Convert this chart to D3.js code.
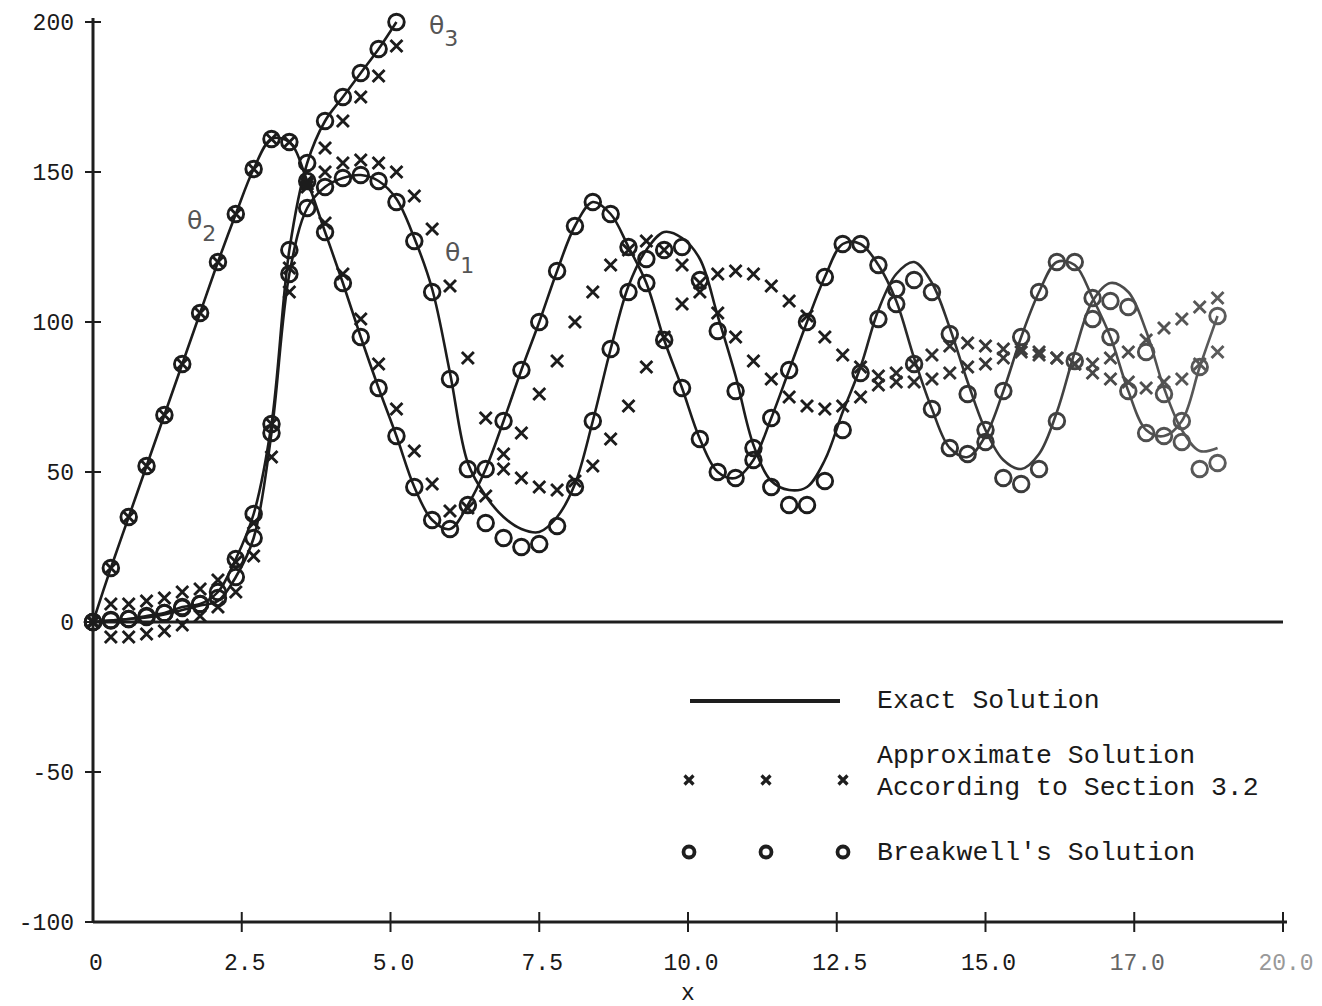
<!DOCTYPE html>
<html>
<head>
<meta charset="utf-8">
<script src="https://cdn.jsdelivr.net/npm/d3@7"></script>
<style>
  body { margin: 0; background: #fff; }
  svg { display: block; }
  .tick-label { font-family: 'Liberation Mono', monospace; font-size: 23px; fill: #1a1a1a; }
  .legend-text { font-family: 'Liberation Mono', monospace; font-size: 26.5px; fill: #1a1a1a; }
  .theta { font-family: 'DejaVu Sans', sans-serif; font-size: 25px; fill: #555; }
</style>
</head>
<body>
<script>
// sample points along x (step of the original computation)
var xs = [0, 0.3, 0.6, 0.9, 1.2, 1.5, 1.8, 2.1, 2.4, 2.7, 3.0, 3.3, 3.6, 3.9, 4.2, 4.5,
  4.8, 5.1, 5.4, 5.7, 6.0, 6.3, 6.6, 6.9, 7.2, 7.5, 7.8, 8.1, 8.4, 8.7, 9.0, 9.3,
  9.6, 9.9, 10.2, 10.5, 10.8, 11.1, 11.4, 11.7, 12.0, 12.3, 12.6, 12.9, 13.2, 13.5,
  13.8, 14.1, 14.4, 14.7, 15.0, 15.3, 15.6, 15.9, 16.2, 16.5, 16.8, 17.1, 17.4,
  17.7, 18.0, 18.3, 18.6, 18.9];

// exact solution
var theta1Exact = [0, 0.5, 1, 1.5, 2.5, 4, 5.5, 7, 15, 28,
  63, 116, 138, 145, 148, 149, 147, 141, 128, 111,
  83, 53, 42, 35, 31, 30, 35, 46, 67, 91,
  112, 124, 130, 128, 121, 102, 82, 59, 47, 44,
  45, 54, 70, 85, 104, 116, 120, 113, 98, 80,
  64, 54, 51, 56, 70, 90, 107, 113, 110, 97,
  78, 64, 57, 58];
var theta2Exact = [0, 18, 35, 52, 69, 86, 103, 120, 136, 151,
  161, 160, 147, 130, 113, 95, 78, 62, 45, 34,
  31, 39, 51, 67, 84, 100, 117, 132, 140, 136,
  125, 113, 94, 78, 61, 50, 48, 54, 68, 84,
  100, 115, 126, 126, 119, 107, 88, 71, 58, 55,
  62, 77, 95, 110, 120, 119, 108, 95, 77, 64,
  62, 67, 85, 102];
var theta3Exact = [0, 0.5, 1, 2, 3, 5, 6, 10, 21, 36,
  66, 124, 153, 167, 175, 183, 191, 200];

// approximate solution (section 3.2)
var approx1 = [0, 6, 6, 7, 8, 10, 11, 14, 20, 33,
  66, 118, 146, 150, 153, 154, 153, 150, 142, 131,
  112, 88, 68, 56, 48, 45, 44, 47, 52, 61,
  72, 85, 95, 106, 113, 116, 117, 116, 112, 107,
  102, 95, 89, 85, 82, 80, 80, 81, 83, 85,
  86, 88, 90, 90, 88, 86, 83, 81, 80, 78,
  80, 81, 86, 90];
var approx2 = [0, 18, 35, 52, 69, 86, 103, 120, 136, 151,
  161, 160, 147, 133, 116, 101, 86, 71, 57, 46,
  37, 38, 42, 51, 63, 76, 87, 100, 110, 119,
  124, 127, 124, 119, 110, 103, 95, 87, 81, 75,
  72, 71, 72, 75, 79, 83, 86, 89, 92, 93,
  92, 91, 91, 89, 88, 86, 86, 88, 90, 94,
  98, 101, 105, 108];
var approx3 = [0, -5, -5, -4, -3, -1, 2, 5, 10, 22,
  55, 110, 145, 158, 167, 175, 182, 192];

// Breakwell's solution
var breakwell1 = [0, 0.7, 1, 1.7, 3, 4.7, 6, 8, 15, 28,
  63, 116, 138, 145, 148, 149, 147, 140, 127, 110,
  81, 51, 33, 28, 25, 26, 32, 45, 67, 91,
  110, 121, 124, 125, 114, 97, 77, 58, 45, 39,
  39, 47, 64, 83, 101, 111, 114, 110, 96, 76,
  60, 48, 46, 51, 67, 87, 101, 107, 105, 90,
  76, 60, 51, 53];
var breakwell2 = [0, 18, 35, 52, 69, 86, 103, 120, 136, 151,
  161, 160, 147, 130, 113, 95, 78, 62, 45, 34,
  31, 39, 51, 67, 84, 100, 117, 132, 140, 136,
  125, 113, 94, 78, 61, 50, 48, 54, 68, 84,
  100, 115, 126, 126, 119, 106, 86, 71, 58, 56,
  64, 77, 95, 110, 120, 120, 108, 95, 77, 63,
  62, 67, 85, 102];
var breakwell3 = [0, 0.5, 1, 2, 3, 5, 6, 10, 21, 36,
  66, 124, 153, 167, 175, 183, 191, 200];

var yTicks = [-100, -50, 0, 50, 100, 150, 200];
var xTicks = [0, 2.5, 5, 7.5, 10, 12.5, 15, 17.5, 20];
var xTickLabels = ['0', '2.5', '5.0', '7.5', '10.0', '12.5', '15.0', '17.0', '20.0'];

var W = 1322, H = 1006;
var x = d3.scaleLinear().domain([0, 20]).range([93, 1283]);
var y = d3.scaleLinear().domain([-100, 200]).range([922, 22]);

var svg = d3.select('body').append('svg').attr('width', W).attr('height', H);
svg.append('rect').attr('width', W).attr('height', H).attr('fill', '#fff');

// scanned plot fades out to the right
var grad = svg.append('defs').append('linearGradient')
  .attr('id', 'fade').attr('gradientUnits', 'userSpaceOnUse')
  .attr('x1', 820).attr('x2', 1290).attr('y1', 0).attr('y2', 0);
grad.append('stop').attr('offset', 0).attr('stop-color', '#1c1c1c');
grad.append('stop').attr('offset', 1).attr('stop-color', '#666');

var ink = '#1e1e1e';

/* axes */
var ax = svg.append('g').attr('stroke', ink).attr('stroke-width', 3).attr('fill', 'none');
ax.append('line').attr('x1', x(0)).attr('x2', x(0)).attr('y1', y(200) - 4).attr('y2', y(-100));
ax.append('line').attr('x1', x(0)).attr('x2', x(20) + 4).attr('y1', y(-100)).attr('y2', y(-100));
ax.append('line').attr('x1', x(0)).attr('x2', x(20)).attr('y1', y(0)).attr('y2', y(0));

ax.selectAll('.ytick').data(yTicks).enter().append('line')
  .attr('x1', x(0) - 8).attr('x2', x(0) + 8)
  .attr('y1', function(d) { return y(d); }).attr('y2', function(d) { return y(d); })
  .attr('stroke-width', 2);
ax.selectAll('.xtick').data(xTicks.slice(1)).enter().append('line')
  .attr('x1', function(d) { return x(d); }).attr('x2', function(d) { return x(d); })
  .attr('y1', y(-100) - 10).attr('y2', y(-100) + 10)
  .attr('stroke-width', 2);

svg.selectAll('.ylab').data(yTicks).enter().append('text')
  .attr('class', 'tick-label')
  .attr('x', 74).attr('y', function(d) { return y(d) + 8; })
  .attr('text-anchor', 'end')
  .text(function(d) { return d; });

svg.selectAll('.xlab').data(xTicks).enter().append('text')
  .attr('class', 'tick-label')
  .attr('x', function(d) { return x(d) + 3; }).attr('y', 970)
  .attr('text-anchor', 'middle')
  .style('fill', function(d, i) { return i == 8 ? '#999' : (i == 7 ? '#666' : '#1a1a1a'); })
  .text(function(d, i) { return xTickLabels[i]; });

svg.append('text').attr('class', 'tick-label')
  .attr('x', 688).attr('y', 1000).attr('text-anchor', 'middle').text('x');

/* exact curves */
function pts(arr) {
  return arr.map(function(v, i) { return [xs[i], v]; });
}
var line = d3.line()
  .x(function(d) { return x(d[0]); })
  .y(function(d) { return y(d[1]); })
  .curve(d3.curveCatmullRom.alpha(0.5));

var plot = svg.append('g');
[theta1Exact, theta2Exact, theta3Exact].forEach(function(s) {
  plot.append('path').attr('d', line(pts(s)))
    .attr('fill', 'none').attr('stroke', 'url(#fade)').attr('stroke-width', 2.6);
});

/* markers */
function crosses(arr) {
  plot.append('g').selectAll('path').data(pts(arr)).enter().append('path')
    .attr('d', function(d) {
      var cx = x(d[0]), cy = y(d[1]), r = 6;
      return 'M' + (cx - r) + ',' + (cy - r) + 'L' + (cx + r) + ',' + (cy + r) +
        'M' + (cx - r) + ',' + (cy + r) + 'L' + (cx + r) + ',' + (cy - r);
    })
    .attr('stroke', 'url(#fade)').attr('stroke-width', 2.9).attr('fill', 'none');
}
function rings(arr) {
  plot.append('g').selectAll('circle').data(pts(arr)).enter().append('circle')
    .attr('cx', function(d) { return x(d[0]); })
    .attr('cy', function(d) { return y(d[1]); })
    .attr('r', 7.8)
    .attr('stroke', 'url(#fade)').attr('stroke-width', 2.9).attr('fill', 'none');
}
[breakwell1, breakwell2, breakwell3].forEach(rings);
[approx1, approx2, approx3].forEach(crosses);

/* curve labels */
function thetaLabel(px, py, sub) {
  var t = svg.append('text').attr('class', 'theta').attr('x', px).attr('y', py);
  t.append('tspan').text('\u03b8');
  t.append('tspan').attr('dy', 12).attr('font-size', 22).text(sub);
}
thetaLabel(429, 34, '3');
thetaLabel(187, 229, '2');
thetaLabel(445, 261, '1');

/* legend */
var lg = svg.append('g');
lg.append('line').attr('x1', 690).attr('x2', 840).attr('y1', 701).attr('y2', 701)
  .attr('stroke', ink).attr('stroke-width', 4);
lg.append('text').attr('class', 'legend-text').attr('x', 877).attr('y', 708).text('Exact Solution');
lg.append('text').attr('class', 'legend-text').attr('x', 877).attr('y', 763).text('Approximate Solution');
lg.append('text').attr('class', 'legend-text').attr('x', 877).attr('y', 795).text('According to Section 3.2');
lg.append('text').attr('class', 'legend-text').attr('x', 877).attr('y', 860).text("Breakwell's Solution");
[689, 766, 843].forEach(function(cx) {
  var r = 4.5, cy = 780;
  lg.append('path')
    .attr('d', 'M' + (cx - r) + ',' + (cy - r) + 'L' + (cx + r) + ',' + (cy + r) +
      'M' + (cx - r) + ',' + (cy + r) + 'L' + (cx + r) + ',' + (cy - r))
    .attr('stroke', ink).attr('stroke-width', 3.2);
  lg.append('circle').attr('cx', cx).attr('cy', 852).attr('r', 5.5)
    .attr('fill', 'none').attr('stroke', ink).attr('stroke-width', 3.8);
});
</script>
</body>
</html>
